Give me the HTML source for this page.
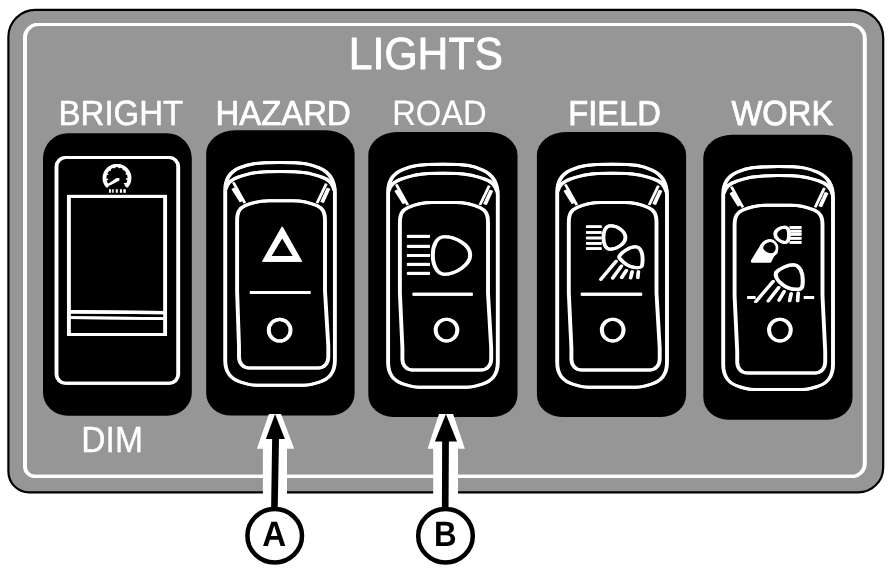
<!DOCTYPE html>
<html lang="en">
<head>
<meta charset="utf-8">
<title>LIGHTS</title>
<style>
html,body{margin:0;padding:0;background:#fff;}
body{width:892px;height:579px;overflow:hidden;}
svg{display:block;will-change:transform;text-rendering:geometricPrecision;font-family:"Liberation Sans",Arial,Helvetica,sans-serif;}
</style>
</head>
<body>
<svg width="892" height="579" viewBox="0 0 892 579">
<rect width="892" height="579" fill="#fff"/>
<path d="M35.4,9.8 L855.2,9.8 A28,28 0 0 1 883.2,37.8 L883.2,467.4 A25,25 0 0 1 858.2,492.4 L29.4,492.4 A21,21 0 0 1 8.4,471.4 L8.4,36.8 A27,27 0 0 1 35.4,9.8 Z" fill="#969696" stroke="#000" stroke-width="2.2"/>
<text x="348.87" y="69.2" font-size="45.0" fill="#fff" stroke="#fff" stroke-width="0.87" stroke-linejoin="round" textLength="154.04" lengthAdjust="spacingAndGlyphs">LIGHTS</text>
<text x="58.61" y="125.0" font-size="35.0" fill="#fff" stroke="#fff" stroke-width="0.53" stroke-linejoin="round" textLength="124.65" lengthAdjust="spacingAndGlyphs">BRIGHT</text>
<text x="215.46" y="125.0" font-size="34.8" fill="#fff" stroke="#fff" stroke-width="0.7" stroke-linejoin="round" textLength="135.31" lengthAdjust="spacingAndGlyphs">HAZARD</text>
<text x="392.21" y="125.0" font-size="35.1" fill="#fff" stroke="#fff" stroke-width="0.17" stroke-linejoin="round" textLength="94.54" lengthAdjust="spacingAndGlyphs">ROAD</text>
<text x="568.29" y="125.0" font-size="34.7" fill="#fff" stroke="#fff" stroke-width="0.89" stroke-linejoin="round" textLength="92.66" lengthAdjust="spacingAndGlyphs">FIELD</text>
<text x="731.48" y="125.0" font-size="34.7" fill="#fff" stroke="#fff" stroke-width="0.83" stroke-linejoin="round" textLength="101.78" lengthAdjust="spacingAndGlyphs">WORK</text>
<text x="81.36" y="452.0" font-size="36.4" fill="#fff" stroke="#fff" stroke-width="0.35" stroke-linejoin="round" textLength="61.54" lengthAdjust="spacingAndGlyphs">DIM</text>
<path d="M68,133.2 L166.8,133.2 A25,25 0 0 1 191.8,158.2 L191.8,392.8 A25,23 0 0 1 166.8,415.8 L68,415.8 A25,23 0 0 1 43,392.8 L43,158.2 A25,25 0 0 1 68,133.2 Z" fill="#000"/>
<path d="M235.2,130.2 L325.6,130.2 A29,23 0 0 1 354.6,153.2 L354.6,393.6 A25,22 0 0 1 329.6,415.6 L231.2,415.6 A25,22 0 0 1 206.2,393.6 L206.2,153.2 A29,23 0 0 1 235.2,130.2 Z" fill="#000"/>
<path d="M397.3,132.0 L488.5,132.0 A29,23 0 0 1 517.5,155.0 L517.5,395.0 A25,22 0 0 1 492.5,417.0 L393.3,417.0 A25,22 0 0 1 368.3,395.0 L368.3,155.0 A29,23 0 0 1 397.3,132.0 Z" fill="#000"/>
<path d="M565.9,132.0 L657.1,132.0 A29,23 0 0 1 686.1,155.0 L686.1,395.0 A25,22 0 0 1 661.1,417.0 L561.9,417.0 A25,22 0 0 1 536.9,395.0 L536.9,155.0 A29,23 0 0 1 565.9,132.0 Z" fill="#000"/>
<path d="M732.3,134.7 L823.5,134.7 A29,23 0 0 1 852.5,157.7 L852.5,397.7 A25,22 0 0 1 827.5,419.7 L728.3,419.7 A25,22 0 0 1 703.3,397.7 L703.3,157.7 A29,23 0 0 1 732.3,134.7 Z" fill="#000"/>
<g transform="translate(-0.45 0)">
<path d="M38,24.5 L850.8,24.5 A14,14 0 0 1 864.8,38.5 L864.8,463.4 A13,13 0 0 1 851.8,476.4 L35,476.4 A10,10 0 0 1 25,466.4 L25,37.5 A13,13 0 0 1 38,24.5 Z" fill="none" stroke="#fff" stroke-width="3.1"/>
<g fill="none" stroke="#fff" stroke-width="3">
<path d="M65.5,157.6 L169.2,157.6 A9,9 0 0 1 178.2,166.6 L178.2,374.3 A9,9 0 0 1 169.2,383.3 L65.5,383.3 A9,9 0 0 1 56.5,374.3 L56.5,166.6 A9,9 0 0 1 65.5,157.6 Z"/>
<rect x="68.9" y="196.4" width="96.2" height="138.1"/>
<path d="M68.9,311.8 L165.1,312.6" stroke-width="3.4"/>
<path d="M68.9,317.6 L165.1,318.6" stroke-width="2.6"/>
</g>
<g fill="none" stroke="#fff">
<path d="M107.9,186.6 A12.5,12.5 0 1 1 126.1,186.6" stroke-width="3"/>
<path d="M109.6,184.6 A10.4,10.4 0 1 1 124.4,184.6" stroke-width="1.7" stroke-dasharray="1.3,3.9"/>
<path d="M119,178 L119,180.6 L109.4,185.6 L108.4,184 L116.6,178.2 Z" fill="#fff" stroke="none"/>
<path d="M109.45,191 h1 m1.9,0 h0.9 m3,0 h1.1 m3,0 h1.2 m2.2,0 h1.6" stroke-width="3.5"/>
</g>
<g fill="none" stroke="#fff" stroke-width="3" stroke-linejoin="round">
<path d="M225.2,190.4 C225.2,179.4 229.7,171.9 239.2,167.9 C249.2,163.9 255.04999999999995,162.4 280.04999999999995,162.4 C305.04999999999995,162.4 309.9,163.9 319.9,168.20000000000002 C330.4,172.9 334.9,181.4 334.9,193.4 L334.9,360.2 C334.9,372.2 329.9,379.2 317.9,382.59999999999997 C309.9,384.7 310.04999999999995,385.2 304.04999999999995,385.2 L256.04999999999995,385.2 C250.04999999999995,385.2 250.2,384.7 242.2,382.59999999999997 C230.2,379.2 225.2,372.2 225.2,360.2 Z"/>
<path d="M225.6,189.4 C227.2,182.4 232.2,178.9 239.2,176.8 C249.2,173.6 255.04999999999995,171.4 280.04999999999995,171.4 C305.04999999999995,171.4 310.9,173.6 320.9,176.8 C327.9,178.9 332.9,182.9 334.5,190.4"/>
<path d="M237.1,220.7 C237.1,211.7 239.6,208.2 245.1,205.7 C253.1,202.2 259.05,200.7 269.05,200.7 L293.05,200.7 C303.05,200.7 309.0,202.2 317.0,205.7 C322.5,208.2 325.0,211.7 325.0,220.7 L325.0,291.0 L328.3,346.1 L328.3,357.1 C328.3,363.1 324.3,368.1 318.3,368.1 L249.0,368.1 C243.0,368.1 239.0,363.1 239.0,357.1 L239.0,346.1 L237.1,291.0 Z"/>
</g>
<path d="M233.39999999999998,182.6 L244.79999999999998,203.0" stroke="#fff" stroke-width="2" fill="none"/>
<path d="M233.2,188.4 L241.39999999999998,201.4" stroke="#fff" stroke-width="3" fill="none"/>
<path d="M326.29999999999995,183.8 L317.09999999999997,203.0" stroke="#fff" stroke-width="2" fill="none"/>
<path d="M328.5,188.4 L322.09999999999997,202.4" stroke="#fff" stroke-width="3" fill="none"/>
<path d="M282.2,226.4 L262.2,261.8 L302,261.8 Z M282.2,237.8 L293.1,256 L271.2,256 Z" fill="#fff" fill-rule="evenodd"/>
<path d="M250.25,292.4 H310.25" stroke="#fff" stroke-width="3.0" fill="none"/>
<circle cx="279.65" cy="330.2" r="10.85" fill="none" stroke="#fff" stroke-width="3.1"/>
<g fill="none" stroke="#fff" stroke-width="3" stroke-linejoin="round">
<path d="M388.1,192.3 C388.1,181.3 392.6,173.8 402.1,169.8 C412.1,165.8 417.95000000000005,164.3 442.95000000000005,164.3 C467.95000000000005,164.3 472.8,165.8 482.8,170.10000000000002 C493.3,174.8 497.8,183.3 497.8,195.3 L497.8,362.2 C497.8,374.2 492.8,381.2 480.8,384.59999999999997 C472.8,386.7 472.95000000000005,387.2 466.95000000000005,387.2 L418.95000000000005,387.2 C412.95000000000005,387.2 413.1,386.7 405.1,384.59999999999997 C393.1,381.2 388.1,374.2 388.1,362.2 Z"/>
<path d="M388.5,191.3 C390.1,184.3 395.1,180.8 402.1,178.70000000000002 C412.1,175.5 417.95000000000005,173.3 442.95000000000005,173.3 C467.95000000000005,173.3 473.8,175.5 483.8,178.70000000000002 C490.8,180.8 495.8,184.8 497.40000000000003,192.3"/>
<path d="M399.9,222.6 C399.9,213.6 402.4,210.1 407.9,207.6 C415.9,204.1 421.95,202.6 431.95,202.6 L455.95,202.6 C465.95,202.6 472.0,204.1 480.0,207.6 C485.5,210.1 488.0,213.6 488.0,222.6 L488.0,293.0 L491.2,347.9 L491.2,358.9 C491.2,364.9 487.2,369.9 481.2,369.9 L412.4,369.9 C406.4,369.9 402.4,364.9 402.4,358.9 L402.4,347.9 L399.9,293.0 Z"/>
</g>
<path d="M396.3,184.5 L407.70000000000005,204.9" stroke="#fff" stroke-width="2" fill="none"/>
<path d="M396.1,190.3 L404.3,203.3" stroke="#fff" stroke-width="3" fill="none"/>
<path d="M489.2,185.70000000000002 L480.0,204.9" stroke="#fff" stroke-width="2" fill="none"/>
<path d="M491.40000000000003,190.3 L485.0,204.3" stroke="#fff" stroke-width="3" fill="none"/>
<path d="M407.35,236.4 H429.55" stroke="#fff" stroke-width="3.0" fill="none"/>
<path d="M407.35,246.4 H429.55" stroke="#fff" stroke-width="3.0" fill="none"/>
<path d="M407.35,255.5 H429.55" stroke="#fff" stroke-width="3.0" fill="none"/>
<path d="M407.35,264.4 H429.55" stroke="#fff" stroke-width="3.0" fill="none"/>
<path d="M407.35,273.4 H429.55" stroke="#fff" stroke-width="3.0" fill="none"/>
<path d="M444,236.8 C455,236.6 470.2,244.5 470.2,255 C470.2,264.5 456,274.2 444,274.2 C437,274.2 432.8,265 432.8,255 C432.8,246 436.5,237 444,236.8 Z" fill="none" stroke="#fff" stroke-width="3.1"/>
<path d="M412.85,294.3 H472.45" stroke="#fff" stroke-width="3.0" fill="none"/>
<circle cx="446.5" cy="330.1" r="10.85" fill="none" stroke="#fff" stroke-width="3.1"/>
<g fill="none" stroke="#fff" stroke-width="3" stroke-linejoin="round">
<path d="M557.2,192.3 C557.2,181.3 561.7,173.8 571.2,169.8 C581.2,165.8 587.1,164.3 612.1,164.3 C637.1,164.3 642.0,165.8 652.0,170.10000000000002 C662.5,174.8 667.0,183.3 667.0,195.3 L667.0,362.2 C667.0,374.2 662.0,381.2 650.0,384.59999999999997 C642.0,386.7 642.1,387.2 636.1,387.2 L588.1,387.2 C582.1,387.2 582.2,386.7 574.2,384.59999999999997 C562.2,381.2 557.2,374.2 557.2,362.2 Z"/>
<path d="M557.6,191.3 C559.2,184.3 564.2,180.8 571.2,178.70000000000002 C581.2,175.5 587.1,173.3 612.1,173.3 C637.1,173.3 643.0,175.5 653.0,178.70000000000002 C660.0,180.8 665.0,184.8 666.6,192.3"/>
<path d="M568.8,222.6 C568.8,213.6 571.3,210.1 576.8,207.6 C584.8,204.1 590.65,202.6 600.65,202.6 L624.65,202.6 C634.65,202.6 640.5,204.1 648.5,207.6 C654.0,210.1 656.5,213.6 656.5,222.6 L656.5,293.0 L659.7,347.9 L659.7,358.9 C659.7,364.9 655.7,369.9 649.7,369.9 L581.4,369.9 C575.4,369.9 571.4,364.9 571.4,358.9 L571.4,347.9 L568.8,293.0 Z"/>
</g>
<path d="M565.4000000000001,184.5 L576.8000000000001,204.9" stroke="#fff" stroke-width="2" fill="none"/>
<path d="M565.2,190.3 L573.4000000000001,203.3" stroke="#fff" stroke-width="3" fill="none"/>
<path d="M658.4,185.70000000000002 L649.2,204.9" stroke="#fff" stroke-width="2" fill="none"/>
<path d="M660.6,190.3 L654.2,204.3" stroke="#fff" stroke-width="3" fill="none"/>
<path d="M586.35,226.7 H601.35" stroke="#fff" stroke-width="2.6" fill="none"/>
<path d="M586.35,232.5 H601.35" stroke="#fff" stroke-width="2.6" fill="none"/>
<path d="M586.35,238.0 H601.35" stroke="#fff" stroke-width="2.6" fill="none"/>
<path d="M586.35,243.4 H601.35" stroke="#fff" stroke-width="2.6" fill="none"/>
<path d="M586.35,248.6 H601.35" stroke="#fff" stroke-width="2.6" fill="none"/>
<path d="M610.5,225.8 C617,225.6 625.4,231 625.4,237.4 C625.4,243.5 617,249.2 610,249.2 C605.5,249.2 603.4,243.5 603.4,237.6 C603.4,231.5 605.5,226 610.5,225.8 Z" fill="none" stroke="#fff" stroke-width="3"/>
<path d="M619.4,256 C622,252 630,246.6 635.5,246.8 C641,247 642.8,254 642.6,260 C642.4,265 642.4,267.4 639,267.6 C633,268 628,266 624.5,263 C621,260 618.4,258 619.4,256 Z" fill="none" stroke="#fff" stroke-width="3"/>
<g stroke="#fff" stroke-width="2.8" fill="none" stroke-linecap="round">
<path d="M616.2,261.2 L600.8,279.4"/>
<path d="M621.5,266 L612.6,278.2"/>
<path d="M626.4,270.4 L621.6,277.6"/>
<path d="M632.2,271.6 L630.6,278"/>
<path d="M638.4,271.6 L637.8,277.6"/>
</g>
<path d="M581.15,294.3 H641.75" stroke="#fff" stroke-width="3.0" fill="none"/>
<circle cx="612.7" cy="330.1" r="10.85" fill="none" stroke="#fff" stroke-width="3.1"/>
<g fill="none" stroke="#fff" stroke-width="3" stroke-linejoin="round">
<path d="M723.2,194.6 C723.2,183.6 727.7,176.1 737.2,172.1 C747.2,168.1 753.1,166.6 778.1,166.6 C803.1,166.6 808.0,168.1 818.0,172.4 C828.5,177.1 833.0,185.6 833.0,197.6 L833.0,364.6 C833.0,376.6 828.0,383.6 816.0,387.0 C808.0,389.1 808.1,389.6 802.1,389.6 L754.1,389.6 C748.1,389.6 748.2,389.1 740.2,387.0 C728.2,383.6 723.2,376.6 723.2,364.6 Z"/>
<path d="M723.6,193.6 C725.2,186.6 730.2,183.1 737.2,181.0 C747.2,177.79999999999998 753.1,175.6 778.1,175.6 C803.1,175.6 809.0,177.79999999999998 819.0,181.0 C826.0,183.1 831.0,187.1 832.6,194.6"/>
<path d="M734.6,225.2 C734.6,216.2 737.1,212.7 742.6,210.2 C750.6,206.7 756.55,205.2 766.55,205.2 L790.55,205.2 C800.55,205.2 806.5,206.7 814.5,210.2 C820.0,212.7 822.5,216.2 822.5,225.2 L822.5,296.0 L825.2,350.9 L825.2,361.9 C825.2,367.9 821.2,372.9 815.2,372.9 L747.2,372.9 C741.2,372.9 737.2,367.9 737.2,361.9 L737.2,350.9 L734.6,296.0 Z"/>
</g>
<path d="M731.4000000000001,186.79999999999998 L742.8000000000001,207.2" stroke="#fff" stroke-width="2" fill="none"/>
<path d="M731.2,192.6 L739.4000000000001,205.6" stroke="#fff" stroke-width="3" fill="none"/>
<path d="M824.4,188.0 L815.2,207.2" stroke="#fff" stroke-width="2" fill="none"/>
<path d="M826.6,192.6 L820.2,206.6" stroke="#fff" stroke-width="3" fill="none"/>
<path d="M785.8,227.3 C781.5,226.6 775.2,229.6 775.2,234.2 C775.2,238.2 779.6,241.6 784.4,242.5 C787.6,243 789,240 789,235 C789,231 788.6,227.9 785.8,227.3 Z" fill="none" stroke="#fff" stroke-width="2.9"/>
<path d="M789.85,227.5 H801.25" stroke="#fff" stroke-width="2.7" fill="none"/>
<path d="M789.85,231.2 H801.25" stroke="#fff" stroke-width="2.7" fill="none"/>
<path d="M789.85,234.3 H801.25" stroke="#fff" stroke-width="2.7" fill="none"/>
<path d="M789.85,238.3 H801.25" stroke="#fff" stroke-width="2.7" fill="none"/>
<path d="M789.85,242.4 H801.25" stroke="#fff" stroke-width="2.7" fill="none"/>
<path d="M760.6,245.6 L751.4,260.4 L751.4,262.6 L770.6,262.6 L773.6,256.4 L777.4,253 L776,246 L766,240 Z" fill="#fff"/>
<path d="M769.2,240.6 C773.2,240.2 776.6,243.8 776.6,248.2 C776.6,252.2 773.4,254.6 770.4,254.6 C766.2,254.6 761,250.6 761.4,247.6 C761.8,244.4 765.4,241 769.2,240.6 Z" fill="#000" stroke="#fff" stroke-width="2.7"/>
<path d="M776,272.6 C779.5,268.5 788,264.6 793.5,264.8 C800,265 802.8,273 802.8,280 C802.8,286 802.4,289.2 798.5,289.4 C791.5,289.8 786,287.6 781.8,284 C778,280.8 774.6,276.5 776,272.6 Z" fill="none" stroke="#fff" stroke-width="3.2"/>
<g stroke="#fff" stroke-width="2.8" fill="none" stroke-linecap="round">
<path d="M773.2,281.4 L755.8,301.6"/>
<path d="M778.8,287.4 L768.2,301"/>
<path d="M784.2,291.4 L779,300.2"/>
<path d="M791.2,293.6 L789.6,300.8"/>
<path d="M798.2,293 L797.6,300.8"/>
</g>
<path d="M747.55,297.5 H755.15" stroke="#fff" stroke-width="3.0" fill="none"/>
<path d="M804.15,297.5 H813.75" stroke="#fff" stroke-width="3.0" fill="none"/>
<circle cx="779.9" cy="330.1" r="10.85" fill="none" stroke="#fff" stroke-width="3.1"/>
</g>
<g transform="translate(0.45 0)">
<path d="M38,24.5 L850.8,24.5 A14,14 0 0 1 864.8,38.5 L864.8,463.4 A13,13 0 0 1 851.8,476.4 L35,476.4 A10,10 0 0 1 25,466.4 L25,37.5 A13,13 0 0 1 38,24.5 Z" fill="none" stroke="#fff" stroke-width="3.1"/>
<g fill="none" stroke="#fff" stroke-width="3">
<path d="M65.5,157.6 L169.2,157.6 A9,9 0 0 1 178.2,166.6 L178.2,374.3 A9,9 0 0 1 169.2,383.3 L65.5,383.3 A9,9 0 0 1 56.5,374.3 L56.5,166.6 A9,9 0 0 1 65.5,157.6 Z"/>
<rect x="68.9" y="196.4" width="96.2" height="138.1"/>
<path d="M68.9,311.8 L165.1,312.6" stroke-width="3.4"/>
<path d="M68.9,317.6 L165.1,318.6" stroke-width="2.6"/>
</g>
<g fill="none" stroke="#fff">
<path d="M107.9,186.6 A12.5,12.5 0 1 1 126.1,186.6" stroke-width="3"/>
<path d="M109.6,184.6 A10.4,10.4 0 1 1 124.4,184.6" stroke-width="1.7" stroke-dasharray="1.3,3.9"/>
<path d="M119,178 L119,180.6 L109.4,185.6 L108.4,184 L116.6,178.2 Z" fill="#fff" stroke="none"/>
<path d="M109.45,191 h1 m1.9,0 h0.9 m3,0 h1.1 m3,0 h1.2 m2.2,0 h1.6" stroke-width="3.5"/>
</g>
<g fill="none" stroke="#fff" stroke-width="3" stroke-linejoin="round">
<path d="M225.2,190.4 C225.2,179.4 229.7,171.9 239.2,167.9 C249.2,163.9 255.04999999999995,162.4 280.04999999999995,162.4 C305.04999999999995,162.4 309.9,163.9 319.9,168.20000000000002 C330.4,172.9 334.9,181.4 334.9,193.4 L334.9,360.2 C334.9,372.2 329.9,379.2 317.9,382.59999999999997 C309.9,384.7 310.04999999999995,385.2 304.04999999999995,385.2 L256.04999999999995,385.2 C250.04999999999995,385.2 250.2,384.7 242.2,382.59999999999997 C230.2,379.2 225.2,372.2 225.2,360.2 Z"/>
<path d="M225.6,189.4 C227.2,182.4 232.2,178.9 239.2,176.8 C249.2,173.6 255.04999999999995,171.4 280.04999999999995,171.4 C305.04999999999995,171.4 310.9,173.6 320.9,176.8 C327.9,178.9 332.9,182.9 334.5,190.4"/>
<path d="M237.1,220.7 C237.1,211.7 239.6,208.2 245.1,205.7 C253.1,202.2 259.05,200.7 269.05,200.7 L293.05,200.7 C303.05,200.7 309.0,202.2 317.0,205.7 C322.5,208.2 325.0,211.7 325.0,220.7 L325.0,291.0 L328.3,346.1 L328.3,357.1 C328.3,363.1 324.3,368.1 318.3,368.1 L249.0,368.1 C243.0,368.1 239.0,363.1 239.0,357.1 L239.0,346.1 L237.1,291.0 Z"/>
</g>
<path d="M233.39999999999998,182.6 L244.79999999999998,203.0" stroke="#fff" stroke-width="2" fill="none"/>
<path d="M233.2,188.4 L241.39999999999998,201.4" stroke="#fff" stroke-width="3" fill="none"/>
<path d="M326.29999999999995,183.8 L317.09999999999997,203.0" stroke="#fff" stroke-width="2" fill="none"/>
<path d="M328.5,188.4 L322.09999999999997,202.4" stroke="#fff" stroke-width="3" fill="none"/>
<path d="M282.2,226.4 L262.2,261.8 L302,261.8 Z M282.2,237.8 L293.1,256 L271.2,256 Z" fill="#fff" fill-rule="evenodd"/>
<path d="M250.25,292.4 H310.25" stroke="#fff" stroke-width="3.0" fill="none"/>
<circle cx="279.65" cy="330.2" r="10.85" fill="none" stroke="#fff" stroke-width="3.1"/>
<g fill="none" stroke="#fff" stroke-width="3" stroke-linejoin="round">
<path d="M388.1,192.3 C388.1,181.3 392.6,173.8 402.1,169.8 C412.1,165.8 417.95000000000005,164.3 442.95000000000005,164.3 C467.95000000000005,164.3 472.8,165.8 482.8,170.10000000000002 C493.3,174.8 497.8,183.3 497.8,195.3 L497.8,362.2 C497.8,374.2 492.8,381.2 480.8,384.59999999999997 C472.8,386.7 472.95000000000005,387.2 466.95000000000005,387.2 L418.95000000000005,387.2 C412.95000000000005,387.2 413.1,386.7 405.1,384.59999999999997 C393.1,381.2 388.1,374.2 388.1,362.2 Z"/>
<path d="M388.5,191.3 C390.1,184.3 395.1,180.8 402.1,178.70000000000002 C412.1,175.5 417.95000000000005,173.3 442.95000000000005,173.3 C467.95000000000005,173.3 473.8,175.5 483.8,178.70000000000002 C490.8,180.8 495.8,184.8 497.40000000000003,192.3"/>
<path d="M399.9,222.6 C399.9,213.6 402.4,210.1 407.9,207.6 C415.9,204.1 421.95,202.6 431.95,202.6 L455.95,202.6 C465.95,202.6 472.0,204.1 480.0,207.6 C485.5,210.1 488.0,213.6 488.0,222.6 L488.0,293.0 L491.2,347.9 L491.2,358.9 C491.2,364.9 487.2,369.9 481.2,369.9 L412.4,369.9 C406.4,369.9 402.4,364.9 402.4,358.9 L402.4,347.9 L399.9,293.0 Z"/>
</g>
<path d="M396.3,184.5 L407.70000000000005,204.9" stroke="#fff" stroke-width="2" fill="none"/>
<path d="M396.1,190.3 L404.3,203.3" stroke="#fff" stroke-width="3" fill="none"/>
<path d="M489.2,185.70000000000002 L480.0,204.9" stroke="#fff" stroke-width="2" fill="none"/>
<path d="M491.40000000000003,190.3 L485.0,204.3" stroke="#fff" stroke-width="3" fill="none"/>
<path d="M407.35,236.4 H429.55" stroke="#fff" stroke-width="3.0" fill="none"/>
<path d="M407.35,246.4 H429.55" stroke="#fff" stroke-width="3.0" fill="none"/>
<path d="M407.35,255.5 H429.55" stroke="#fff" stroke-width="3.0" fill="none"/>
<path d="M407.35,264.4 H429.55" stroke="#fff" stroke-width="3.0" fill="none"/>
<path d="M407.35,273.4 H429.55" stroke="#fff" stroke-width="3.0" fill="none"/>
<path d="M444,236.8 C455,236.6 470.2,244.5 470.2,255 C470.2,264.5 456,274.2 444,274.2 C437,274.2 432.8,265 432.8,255 C432.8,246 436.5,237 444,236.8 Z" fill="none" stroke="#fff" stroke-width="3.1"/>
<path d="M412.85,294.3 H472.45" stroke="#fff" stroke-width="3.0" fill="none"/>
<circle cx="446.5" cy="330.1" r="10.85" fill="none" stroke="#fff" stroke-width="3.1"/>
<g fill="none" stroke="#fff" stroke-width="3" stroke-linejoin="round">
<path d="M557.2,192.3 C557.2,181.3 561.7,173.8 571.2,169.8 C581.2,165.8 587.1,164.3 612.1,164.3 C637.1,164.3 642.0,165.8 652.0,170.10000000000002 C662.5,174.8 667.0,183.3 667.0,195.3 L667.0,362.2 C667.0,374.2 662.0,381.2 650.0,384.59999999999997 C642.0,386.7 642.1,387.2 636.1,387.2 L588.1,387.2 C582.1,387.2 582.2,386.7 574.2,384.59999999999997 C562.2,381.2 557.2,374.2 557.2,362.2 Z"/>
<path d="M557.6,191.3 C559.2,184.3 564.2,180.8 571.2,178.70000000000002 C581.2,175.5 587.1,173.3 612.1,173.3 C637.1,173.3 643.0,175.5 653.0,178.70000000000002 C660.0,180.8 665.0,184.8 666.6,192.3"/>
<path d="M568.8,222.6 C568.8,213.6 571.3,210.1 576.8,207.6 C584.8,204.1 590.65,202.6 600.65,202.6 L624.65,202.6 C634.65,202.6 640.5,204.1 648.5,207.6 C654.0,210.1 656.5,213.6 656.5,222.6 L656.5,293.0 L659.7,347.9 L659.7,358.9 C659.7,364.9 655.7,369.9 649.7,369.9 L581.4,369.9 C575.4,369.9 571.4,364.9 571.4,358.9 L571.4,347.9 L568.8,293.0 Z"/>
</g>
<path d="M565.4000000000001,184.5 L576.8000000000001,204.9" stroke="#fff" stroke-width="2" fill="none"/>
<path d="M565.2,190.3 L573.4000000000001,203.3" stroke="#fff" stroke-width="3" fill="none"/>
<path d="M658.4,185.70000000000002 L649.2,204.9" stroke="#fff" stroke-width="2" fill="none"/>
<path d="M660.6,190.3 L654.2,204.3" stroke="#fff" stroke-width="3" fill="none"/>
<path d="M586.35,226.7 H601.35" stroke="#fff" stroke-width="2.6" fill="none"/>
<path d="M586.35,232.5 H601.35" stroke="#fff" stroke-width="2.6" fill="none"/>
<path d="M586.35,238.0 H601.35" stroke="#fff" stroke-width="2.6" fill="none"/>
<path d="M586.35,243.4 H601.35" stroke="#fff" stroke-width="2.6" fill="none"/>
<path d="M586.35,248.6 H601.35" stroke="#fff" stroke-width="2.6" fill="none"/>
<path d="M610.5,225.8 C617,225.6 625.4,231 625.4,237.4 C625.4,243.5 617,249.2 610,249.2 C605.5,249.2 603.4,243.5 603.4,237.6 C603.4,231.5 605.5,226 610.5,225.8 Z" fill="none" stroke="#fff" stroke-width="3"/>
<path d="M619.4,256 C622,252 630,246.6 635.5,246.8 C641,247 642.8,254 642.6,260 C642.4,265 642.4,267.4 639,267.6 C633,268 628,266 624.5,263 C621,260 618.4,258 619.4,256 Z" fill="none" stroke="#fff" stroke-width="3"/>
<g stroke="#fff" stroke-width="2.8" fill="none" stroke-linecap="round">
<path d="M616.2,261.2 L600.8,279.4"/>
<path d="M621.5,266 L612.6,278.2"/>
<path d="M626.4,270.4 L621.6,277.6"/>
<path d="M632.2,271.6 L630.6,278"/>
<path d="M638.4,271.6 L637.8,277.6"/>
</g>
<path d="M581.15,294.3 H641.75" stroke="#fff" stroke-width="3.0" fill="none"/>
<circle cx="612.7" cy="330.1" r="10.85" fill="none" stroke="#fff" stroke-width="3.1"/>
<g fill="none" stroke="#fff" stroke-width="3" stroke-linejoin="round">
<path d="M723.2,194.6 C723.2,183.6 727.7,176.1 737.2,172.1 C747.2,168.1 753.1,166.6 778.1,166.6 C803.1,166.6 808.0,168.1 818.0,172.4 C828.5,177.1 833.0,185.6 833.0,197.6 L833.0,364.6 C833.0,376.6 828.0,383.6 816.0,387.0 C808.0,389.1 808.1,389.6 802.1,389.6 L754.1,389.6 C748.1,389.6 748.2,389.1 740.2,387.0 C728.2,383.6 723.2,376.6 723.2,364.6 Z"/>
<path d="M723.6,193.6 C725.2,186.6 730.2,183.1 737.2,181.0 C747.2,177.79999999999998 753.1,175.6 778.1,175.6 C803.1,175.6 809.0,177.79999999999998 819.0,181.0 C826.0,183.1 831.0,187.1 832.6,194.6"/>
<path d="M734.6,225.2 C734.6,216.2 737.1,212.7 742.6,210.2 C750.6,206.7 756.55,205.2 766.55,205.2 L790.55,205.2 C800.55,205.2 806.5,206.7 814.5,210.2 C820.0,212.7 822.5,216.2 822.5,225.2 L822.5,296.0 L825.2,350.9 L825.2,361.9 C825.2,367.9 821.2,372.9 815.2,372.9 L747.2,372.9 C741.2,372.9 737.2,367.9 737.2,361.9 L737.2,350.9 L734.6,296.0 Z"/>
</g>
<path d="M731.4000000000001,186.79999999999998 L742.8000000000001,207.2" stroke="#fff" stroke-width="2" fill="none"/>
<path d="M731.2,192.6 L739.4000000000001,205.6" stroke="#fff" stroke-width="3" fill="none"/>
<path d="M824.4,188.0 L815.2,207.2" stroke="#fff" stroke-width="2" fill="none"/>
<path d="M826.6,192.6 L820.2,206.6" stroke="#fff" stroke-width="3" fill="none"/>
<path d="M785.8,227.3 C781.5,226.6 775.2,229.6 775.2,234.2 C775.2,238.2 779.6,241.6 784.4,242.5 C787.6,243 789,240 789,235 C789,231 788.6,227.9 785.8,227.3 Z" fill="none" stroke="#fff" stroke-width="2.9"/>
<path d="M789.85,227.5 H801.25" stroke="#fff" stroke-width="2.7" fill="none"/>
<path d="M789.85,231.2 H801.25" stroke="#fff" stroke-width="2.7" fill="none"/>
<path d="M789.85,234.3 H801.25" stroke="#fff" stroke-width="2.7" fill="none"/>
<path d="M789.85,238.3 H801.25" stroke="#fff" stroke-width="2.7" fill="none"/>
<path d="M789.85,242.4 H801.25" stroke="#fff" stroke-width="2.7" fill="none"/>
<path d="M760.6,245.6 L751.4,260.4 L751.4,262.6 L770.6,262.6 L773.6,256.4 L777.4,253 L776,246 L766,240 Z" fill="#fff"/>
<path d="M769.2,240.6 C773.2,240.2 776.6,243.8 776.6,248.2 C776.6,252.2 773.4,254.6 770.4,254.6 C766.2,254.6 761,250.6 761.4,247.6 C761.8,244.4 765.4,241 769.2,240.6 Z" fill="#000" stroke="#fff" stroke-width="2.7"/>
<path d="M776,272.6 C779.5,268.5 788,264.6 793.5,264.8 C800,265 802.8,273 802.8,280 C802.8,286 802.4,289.2 798.5,289.4 C791.5,289.8 786,287.6 781.8,284 C778,280.8 774.6,276.5 776,272.6 Z" fill="none" stroke="#fff" stroke-width="3.2"/>
<g stroke="#fff" stroke-width="2.8" fill="none" stroke-linecap="round">
<path d="M773.2,281.4 L755.8,301.6"/>
<path d="M778.8,287.4 L768.2,301"/>
<path d="M784.2,291.4 L779,300.2"/>
<path d="M791.2,293.6 L789.6,300.8"/>
<path d="M798.2,293 L797.6,300.8"/>
</g>
<path d="M747.55,297.5 H755.15" stroke="#fff" stroke-width="3.0" fill="none"/>
<path d="M804.15,297.5 H813.75" stroke="#fff" stroke-width="3.0" fill="none"/>
<circle cx="779.9" cy="330.1" r="10.85" fill="none" stroke="#fff" stroke-width="3.1"/>
</g>
<path d="M268.9,414.0 L281.1,414.0 L294.2,448.7 L287.0,448.7 L287.0,515.5 L262.9,515.5 L262.9,448.7 L256.9,448.7 Z" fill="#fff"/>
<path d="M275.05,414.0 L284.9,438.9 L279.0,438.9 L277.7,509.5 L271.09999999999997,509.5 L272.15,438.9 L265.9,438.9 Z" fill="#000"/>
<ellipse cx="274.7" cy="535.75" rx="27.3" ry="26.75" fill="#fff" stroke="#000" stroke-width="4.5"/>
<text transform="translate(274.15 546) scale(0.942 1)" x="0" y="0" font-size="35.2" font-weight="bold" fill="#000" text-anchor="middle">A</text>
<path d="M439.0,414.0 L453.1,414.0 L464.9,448.7 L458.0,448.7 L458.0,515.5 L433.2,515.5 L433.2,448.7 L427.6,448.7 Z" fill="#fff"/>
<path d="M445.9,414.0 L457.0,441.45 L448.9,441.45 L448.5,509.5 L441.9,509.5 L442.15,441.45 L434.9,441.45 Z" fill="#000"/>
<ellipse cx="445.5" cy="535.75" rx="27.3" ry="26.75" fill="#fff" stroke="#000" stroke-width="4.5"/>
<text transform="translate(445.2 546) scale(0.89 1)" x="0" y="0" font-size="35.2" font-weight="bold" fill="#000" text-anchor="middle">B</text>
</svg>
</body>
</html>
